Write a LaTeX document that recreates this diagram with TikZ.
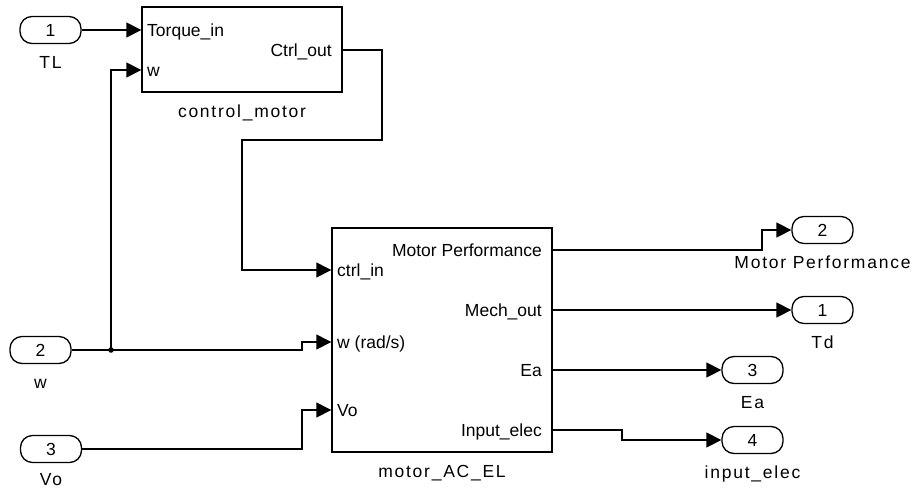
\documentclass[tikz,border=0pt]{standalone}
\usepackage{fontspec}
\setmainfont{Liberation Sans}
\newfontfamily\spacedfont[LetterSpace=10]{Liberation Sans}
\usetikzlibrary{arrows.meta, positioning, calc}

\begin{document}
\begin{tikzpicture}[
    x=1pt, y=-1pt,
    >={Triangle[length=15pt, width=15pt]},
    every node/.style={font=\fontsize{17.5}{20}\selectfont, inner sep=0pt, text height=12.5pt, text depth=0pt},
    wire/.style={line width=1.4pt},
    port/.style={draw, line width=1.3pt, rounded corners=12pt, minimum width=61pt, minimum height=27pt, text height=12.5pt, font=\spacedfont\fontsize{17.5}{20}\selectfont},
    block/.style={draw, line width=1.4pt, inner sep=0pt},
    lbl/.style={font=\spacedfont\fontsize{17.5}{20}\selectfont},
]
    % Page
    \fill[white] (0,0) rectangle (913,490);
    \useasboundingbox (0,0) rectangle (913,490);

    % Inports
    \node[port] (tl) at (50.5,30) {1};
    \node[lbl, below=12pt of tl] (tl-name) {TL};
    \node[port] (win) at (40.5,350) {2};
    \node[lbl, below=12pt of win] (win-name) {w};
    \node[port] (vo) at (51,449) {3};
    \node[lbl, below=10pt of vo] (vo-name) {Vo};

    % control_motor block
    \node[block, minimum width=200pt, minimum height=85pt] (ctrl) at (242,49.5) {};
    \node[lbl, below=12pt of ctrl] (ctrl-name) {control\_motor};
    \node[anchor=west] (cm-tq) at (147,30) {Torque\_in};
    \node[anchor=west] (cm-w) at (147,70) {w};
    \node[anchor=east] (cm-out) at (332,50) {Ctrl\_out};

    % motor_AC_EL block
    \node[block, minimum width=220pt, minimum height=224pt] (motor) at (442,340) {};
    \node[lbl, below=12pt of motor] (motor-name) {motor\_AC\_EL};
    \node[anchor=west] (mot-ci) at (337,270) {ctrl\_in};
    \node[anchor=west] (mot-w) at (337,342) {w (rad/s)};
    \node[anchor=west] (mot-vo) at (337,410) {Vo};
    \node[anchor=east] (mot-mp) at (542,250) {Motor Performance};
    \node[anchor=east] (mot-mo) at (542,310) {Mech\_out};
    \node[anchor=east] (mot-ea) at (542,370) {Ea};
    \node[anchor=east] (mot-ie) at (542,430) {Input\_elec};

    % Outports
    \node[port] (mp) at (822.5,230) {2};
    \node[lbl, below=12pt of mp] (mp-name) {Motor Performance};
    \node[port] (td) at (822.5,310) {1};
    \node[lbl, below=12pt of td] (td-name) {Td};
    \node[port] (ea) at (752.5,370) {3};
    \node[lbl, below=12pt of ea] (ea-name) {Ea};
    \node[port] (ie) at (752.5,440) {4};
    \node[lbl, below=12pt of ie] (ie-name) {input\_elec};

    % Branch point of w
    \coordinate (jw) at (111,350);
    \fill (jw) circle (2.8pt);

    % Wires into control_motor
    \draw[wire,->] (tl.east) -- (ctrl.west |- cm-tq);
    \draw[wire,->] (jw) |- (ctrl.west |- cm-w);

    % Wires into motor_AC_EL
    \draw[wire,->] (ctrl.east |- cm-out) -| (382,140) -| (242,270) -- (motor.west |- mot-ci);
    \draw[wire,->] (win.east) -- (jw) -- (302,350) |- (motor.west |- mot-w);
    \draw[wire,->] (vo.east) -- (302,449) |- (motor.west |- mot-vo);

    % Wires to outports
    \draw[wire,->] (motor.east |- mot-mp) -| (762,230) -- (mp.west);
    \draw[wire,->] (motor.east |- mot-mo) -- (td.west);
    \draw[wire,->] (motor.east |- mot-ea) -- (ea.west);
    \draw[wire,->] (motor.east |- mot-ie) -| (622,440) -- (ie.west);
\end{tikzpicture}
\end{document}
